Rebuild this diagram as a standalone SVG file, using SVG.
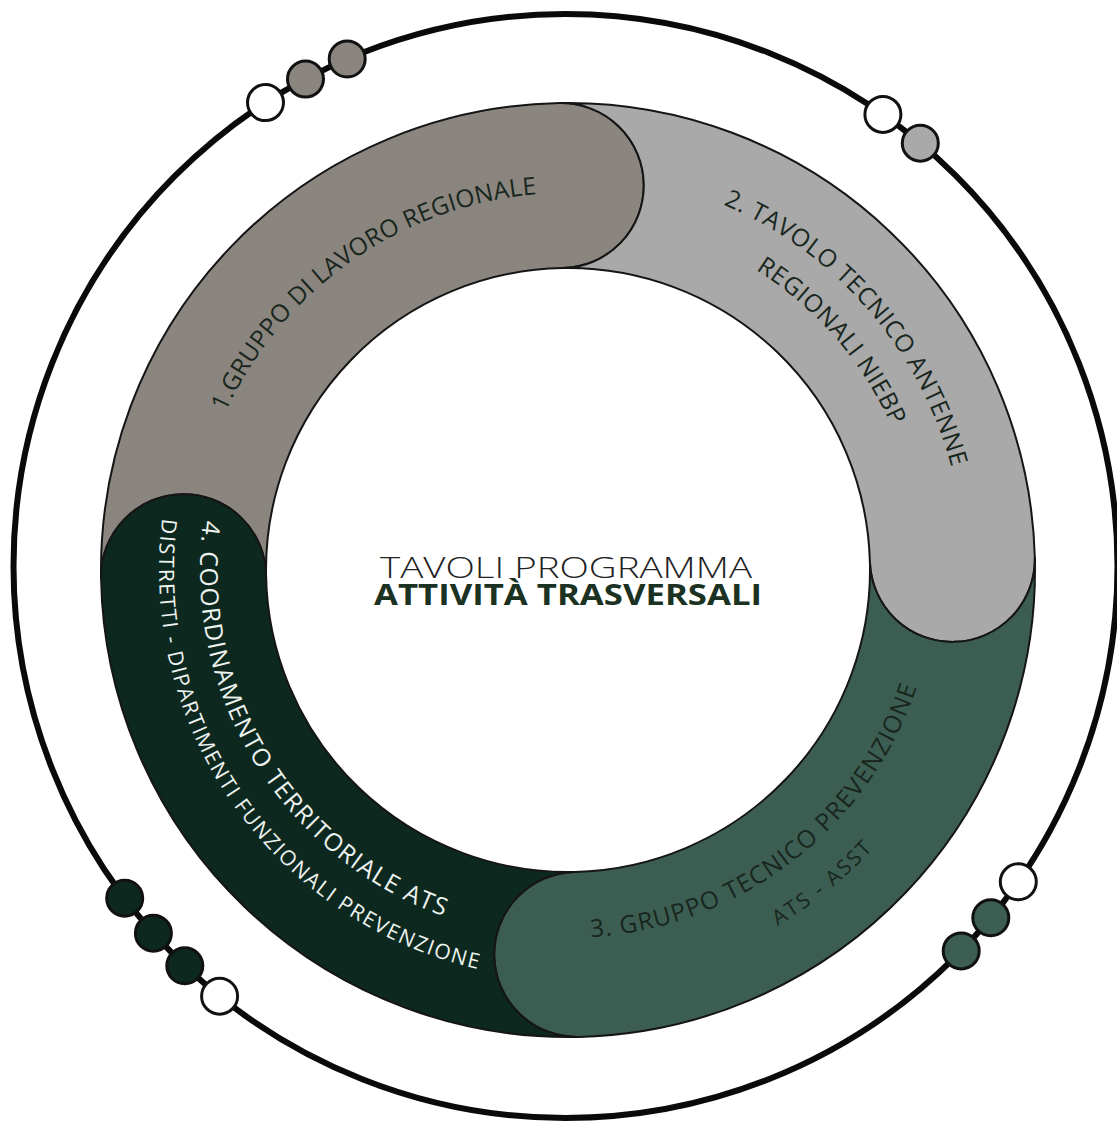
<svg xmlns="http://www.w3.org/2000/svg" width="1117" height="1122" viewBox="0 0 1117 1122">
<style>
.seg{stroke:#151515;stroke-width:2;stroke-linejoin:round}
.lbl{font-family:"Open Sans","Liberation Sans",sans-serif;font-size:24.5px;fill:#18261d}
.lbl.sm{font-size:21px}
.lbl.w{fill:#eef3f0}
.bead{stroke:#111;stroke-width:3}
.orbit{fill:none;stroke:#0a0a0a;stroke-width:6}
.t1{font-family:"Open Sans","Liberation Sans",sans-serif;font-weight:300;font-size:30px;fill:#222222}
.t2{font-family:"Open Sans","Liberation Sans",sans-serif;font-weight:700;font-size:28.5px;fill:#1b3121}
</style>
<defs>
<path id="p1" d="M 226.32 729.33 A 377 377 0 0 1 834.58 303.42"/>
<path id="p2a" d="M 363.53 229.70 A 397 397 0 0 1 876.53 819.84"/>
<path id="p2b" d="M 385.68 266.56 A 354 354 0 0 1 843.11 792.78"/>
<path id="p3a" d="M 319.38 841.32 A 368 368 0 0 0 894.42 400.08"/>
<path id="p3b" d="M 297.05 881.70 A 413 413 0 0 0 929.22 369.77"/>
<path id="p4a" d="M 325.52 293.18 A 368 368 0 0 0 701.08 913.09"/>
<path id="p4b" d="M 278.79 280.79 A 409 409 0 0 0 740.85 940.68"/>
</defs>
<rect width="1117" height="1122" fill="#ffffff"/>

<g id="orbit">
<circle class="orbit" cx="565.5" cy="566" r="552"/>
<circle class="bead" cx="265.5" cy="102.6" r="18" fill="#ffffff"/>
<circle class="bead" cx="305.5" cy="79.1" r="18" fill="#8a857e"/>
<circle class="bead" cx="347.2" cy="59.0" r="18" fill="#8a857e"/>
<circle class="bead" cx="882.9" cy="114.4" r="18" fill="#ffffff"/>
<circle class="bead" cx="920.3" cy="143.2" r="18" fill="#a9a9a9"/>
<circle class="bead" cx="1018.3" cy="881.8" r="18" fill="#ffffff"/>
<circle class="bead" cx="990.8" cy="917.8" r="18" fill="#3c5e52"/>
<circle class="bead" cx="961.2" cy="950.9" r="18" fill="#3c5e52"/>
<circle class="bead" cx="124.7" cy="898.2" r="18" fill="#0d291f"/>
<circle class="bead" cx="153.4" cy="933.2" r="18" fill="#0d291f"/>
<circle class="bead" cx="184.8" cy="965.8" r="18" fill="#0d291f"/>
<circle class="bead" cx="219.6" cy="996.2" r="18" fill="#ffffff"/>
</g>

<g id="connectors"></g>

<g id="seg1">
<path class="seg" fill="#8a857e" d="M 101.07 578.15 A 467 467 0 0 1 559.85 103.07 A 82.5 82.5 0 0 1 562.73 268.05 A 302 302 0 0 0 266.05 575.27 A 82.5 82.5 0 0 0 101.07 578.15 Z"/>
<text class="lbl" text-anchor="middle"><textPath href="#p1" startOffset="50%" textLength="398" lengthAdjust="spacing">1.GRUPPO DI LAVORO REGIONALE</textPath></text>
</g>

<g id="seg2">
<path class="seg" fill="#a9a9a9" d="M 559.85 103.07 A 467 467 0 0 1 1034.84 557.78 A 82.5 82.5 0 0 1 869.90 562.09 A 302 302 0 0 0 562.73 268.05 A 82.5 82.5 0 0 0 559.85 103.07 Z"/>
<text class="lbl" text-anchor="middle"><textPath href="#p2a" startOffset="50%" textLength="360" lengthAdjust="spacing">2. TAVOLO TECNICO ANTENNE</textPath></text>
<text class="lbl" text-anchor="middle"><textPath href="#p2b" startOffset="50%" textLength="210" lengthAdjust="spacing">REGIONALI NIEBP</textPath></text>
</g>

<g id="seg3">
<path class="seg" fill="#3c5e52" d="M 1034.84 557.78 A 467 467 0 0 1 578.59 1036.88 A 82.5 82.5 0 0 1 574.85 871.92 A 302 302 0 0 0 869.90 562.09 A 82.5 82.5 0 0 0 1034.84 557.78 Z"/>
<text class="lbl" text-anchor="middle"><textPath href="#p3a" startOffset="50%" textLength="436" lengthAdjust="spacing">3. GRUPPO TECNICO PREVENZIONE</textPath></text>
<text class="lbl sm" text-anchor="middle"><textPath href="#p3b" startOffset="50%" textLength="123" lengthAdjust="spacing">ATS - ASST</textPath></text>
</g>

<g id="seg4">
<path class="seg" fill="#0d291f" d="M 578.59 1036.88 A 467 467 0 0 1 101.07 578.15 A 82.5 82.5 0 0 1 266.05 575.27 A 302 302 0 0 0 574.85 871.92 A 82.5 82.5 0 0 0 578.59 1036.88 Z"/>
<text class="lbl w" text-anchor="middle"><textPath href="#p4a" startOffset="50%" textLength="501" lengthAdjust="spacing">4. COORDINAMENTO TERRITORIALE ATS</textPath></text>
<text class="lbl w sm" text-anchor="middle"><textPath href="#p4b" startOffset="50%" textLength="603" lengthAdjust="spacing">DISTRETTI - DIPARTIMENTI FUNZIONALI PREVENZIONE</textPath></text>
</g>

<g id="center">
<text class="t1" x="566" y="578" text-anchor="middle" textLength="372" lengthAdjust="spacingAndGlyphs">TAVOLI PROGRAMMA</text>
<text class="t2" x="568" y="605" text-anchor="middle" textLength="388" lengthAdjust="spacingAndGlyphs">ATTIVITÀ TRASVERSALI</text>
</g>
</svg>
